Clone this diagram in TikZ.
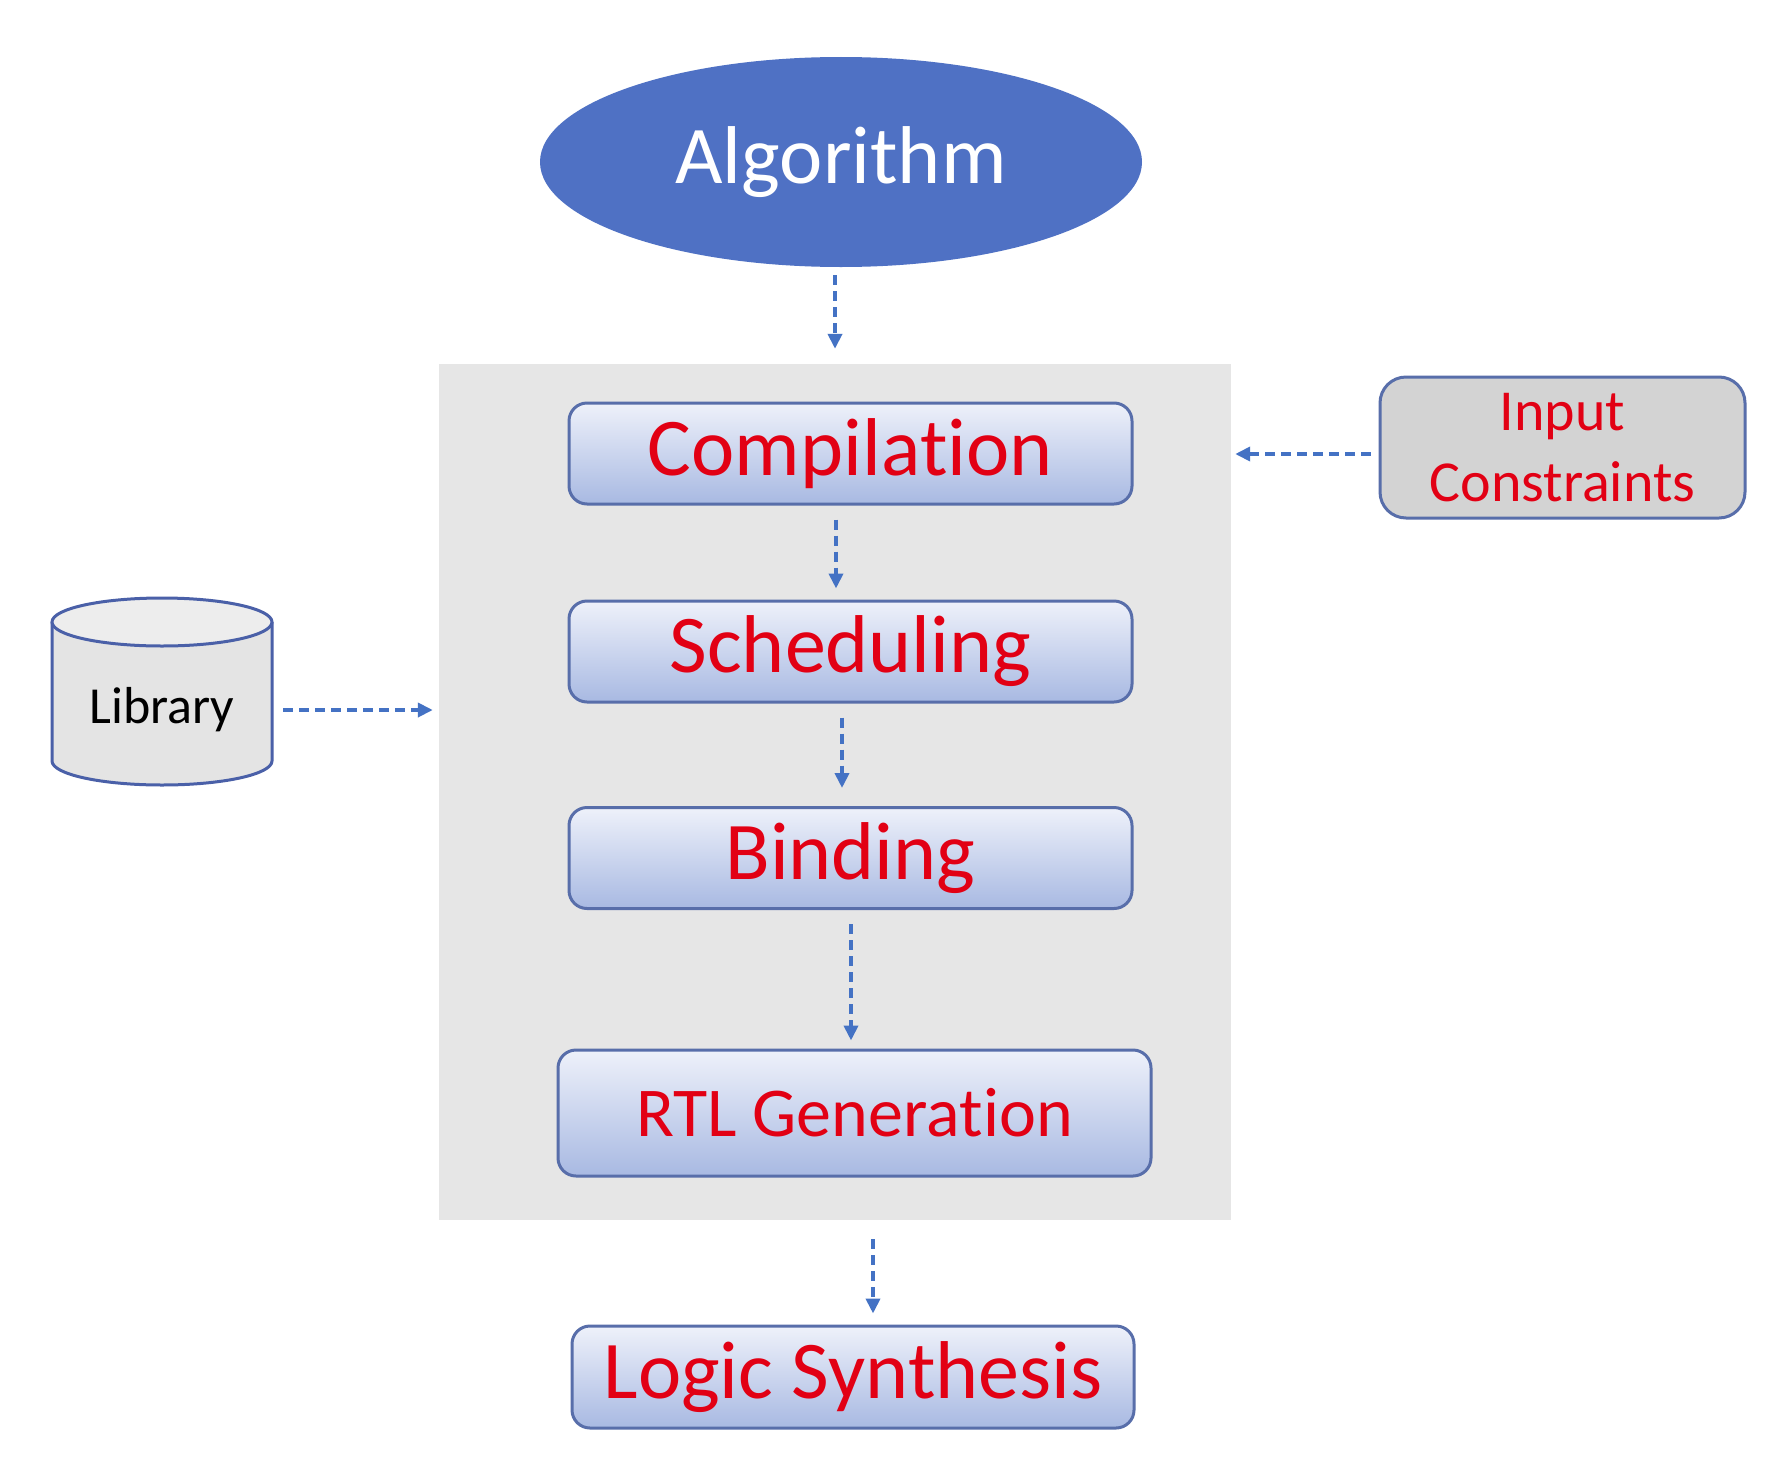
\documentclass[tikz,border=0pt]{standalone}
\usepackage{fontspec}
\setmainfont{Carlito}[Ligatures={NoCommon,NoContextual,NoRequired}]
\usetikzlibrary{arrows.meta,shapes.geometric,calc}
\definecolor{algblue}{RGB}{79,113,196}
\definecolor{arrblue}{RGB}{68,114,196}
\definecolor{boxedge}{RGB}{88,110,170}
\definecolor{boxtop}{RGB}{238,241,250}
\definecolor{boxbot}{RGB}{168,185,226}
\definecolor{txtred}{RGB}{226,0,20}
\definecolor{bggray}{RGB}{230,230,230}
\definecolor{icgray}{RGB}{211,211,211}
\definecolor{cylbody}{RGB}{228,228,228}
\definecolor{cyltop}{RGB}{237,237,237}
\definecolor{cyledge}{RGB}{74,96,168}
\tikzset{
  stagebox/.style={rectangle, rounded corners=18pt, draw=boxedge, line width=3pt,
    top color=boxtop, bottom color=boxbot, text=txtred, inner sep=0pt},
  bigtext/.style={font=\fontsize{82}{98}\selectfont},
  flowarrow/.style={draw=arrblue, line width=3.8pt, dash pattern=on 10pt off 6pt,
    -{Triangle[length=15pt,width=14pt]}},
}
\begin{document}
\begin{tikzpicture}[x=1pt,y=-1pt]
\useasboundingbox[fill=white] (0,0) rectangle (1787,1464);
% background panel
\node[rectangle, fill=bggray, minimum width=792pt, minimum height=856pt, inner sep=0pt] (bg) at (835,792) {};
% algorithm
\node[ellipse, fill=algblue, minimum width=602pt, minimum height=210pt, inner sep=0pt,
      text=white, bigtext] (alg) at (841,162) {Algorithm};
% stages
\node[stagebox, bigtext, minimum width=563pt, minimum height=101pt] (comp) at (850.5,453.5) {Compila\kern0pt tion};
\node[stagebox, bigtext, minimum width=563pt, minimum height=101pt] (sched) at (850.5,651.5) {Scheduling};
\node[stagebox, bigtext, minimum width=563pt, minimum height=101pt] (bind) at (850.5,858) {Binding};
\node[stagebox, font=\fontsize{70}{84}\selectfont, minimum width=593pt, minimum height=126pt] (rtl) at (854.5,1113) {RTL Genera\kern0pt tion};
\node[stagebox, bigtext, minimum width=562pt, minimum height=102pt] (logic) at (853,1377) {Logic Synthesis};
% input constraints
\node[rectangle, rounded corners=26pt, draw=boxedge, line width=3pt, fill=icgray, text=txtred,
      minimum width=365pt, minimum height=141pt, inner sep=0pt, align=center,
      font=\fontsize{58}{71}\selectfont] (ic) at (1562.5,447.5) {Input\\Constraints};
% library cylinder
\node[minimum width=220pt, minimum height=187pt, inner sep=0pt] (lib) at (162,691.5) {};
\fill[cylbody] (52,622) -- (52,761)
  .. controls (52,774.25) and (101.25,785) .. (162,785)
  .. controls (222.75,785) and (272,774.25) .. (272,761) -- (272,622) -- cycle;
\draw[cyledge, line width=3pt] (52,622) -- (52,761)
  .. controls (52,774.25) and (101.25,785) .. (162,785)
  .. controls (222.75,785) and (272,774.25) .. (272,761) -- (272,622);
\draw[cyledge, line width=3pt, fill=cyltop] (162,622) ellipse [x radius=110, y radius=24];
\node[font=\fontsize{52}{62}\selectfont, text=black] (libtxt) at (162,710) {Library};
% connectors
\draw[flowarrow] ($(alg.south)+(-6,8)$) -- ($(alg.south |- bg.north)+(-6,-15)$);
\draw[flowarrow] ($(comp.south)+(-14.5,14)$) -- ($(sched.north)+(-14.5,-11)$);
\draw[flowarrow] ($(sched.south)+(-8.5,14)$) -- ($(bind.north)+(-8.5,-18)$);
\draw[flowarrow] ($(bind.south)+(0.5,14)$) -- ($(bind.south |- rtl.north)+(0.5,-8)$);
\draw[flowarrow] ($(logic.north |- bg.south)+(20,19)$) -- ($(logic.north)+(20,-11)$);
\draw[flowarrow] ($(ic.west |- 0,454)+(-8,0)$) -- ($(bg.east |- 0,454)+(4,0)$);
\draw[flowarrow] ($(lib.east |- libtxt)+(11,0)$) -- ($(bg.west |- libtxt)+(-6,0)$);
\end{tikzpicture}
\end{document}
